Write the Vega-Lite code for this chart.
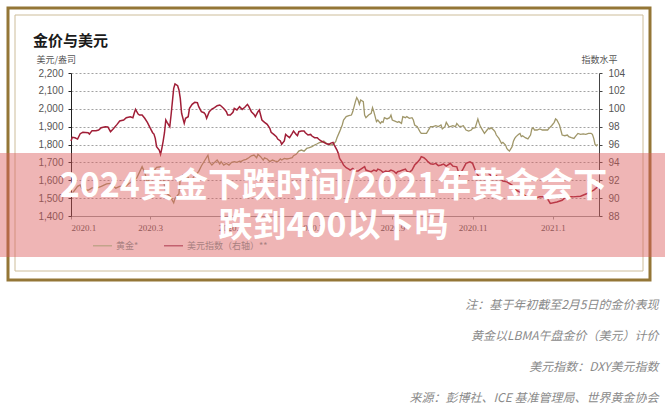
{
"$schema": "https://vega.github.io/schema/vega-lite/v6.json",
"width": 528, "height": 143,
"autosize": "none",
"padding": {"left": 71, "top": 73, "right": 66, "bottom": 194},
"background": "white",
"title": {"text": "金价与美元", "anchor": "start", "frame": "group", "font": "Noto Sans CJK SC", "fontSize": 15, "fontWeight": "bold", "color": "#1a1a1a", "dx": -38, "dy": 42, "offset": 0},
"datasets": {
"gold": [
{"date":"2020-01-02","price":1527},{"date":"2020-01-06","price":1566},{"date":"2020-01-08","price":1574},{"date":"2020-01-09","price":1556},{"date":"2020-01-10","price":1549},{"date":"2020-01-14","price":1544},{"date":"2020-01-17","price":1557},{"date":"2020-01-21","price":1557},{"date":"2020-01-24","price":1566},{"date":"2020-01-28","price":1580},{"date":"2020-01-31","price":1582},
{"date":"2020-02-04","price":1556},{"date":"2020-02-07","price":1566},{"date":"2020-02-12","price":1568},{"date":"2020-02-14","price":1582},{"date":"2020-02-18","price":1600},{"date":"2020-02-20","price":1614},{"date":"2020-02-24","price":1676},{"date":"2020-02-26","price":1643},{"date":"2020-02-28","price":1586},
{"date":"2020-03-03","price":1644},{"date":"2020-03-06","price":1672},{"date":"2020-03-09","price":1675},{"date":"2020-03-10","price":1650},{"date":"2020-03-12","price":1571},{"date":"2020-03-13","price":1529},{"date":"2020-03-16","price":1514},{"date":"2020-03-19","price":1474},{"date":"2020-03-20","price":1499},{"date":"2020-03-23","price":1525},{"date":"2020-03-24","price":1611},{"date":"2020-03-26","price":1630},{"date":"2020-03-30","price":1617},
{"date":"2020-04-01","price":1586},{"date":"2020-04-03","price":1617},{"date":"2020-04-07","price":1650},{"date":"2020-04-09","price":1680},{"date":"2020-04-14","price":1740},{"date":"2020-04-15","price":1704},{"date":"2020-04-17","price":1685},{"date":"2020-04-19","price":1700},{"date":"2020-04-21","price":1713},{"date":"2020-04-23","price":1691},{"date":"2020-04-24","price":1704},{"date":"2020-04-26","price":1685},{"date":"2020-04-28","price":1694},{"date":"2020-04-30","price":1685},
{"date":"2020-05-02","price":1700},{"date":"2020-05-04","price":1704},{"date":"2020-05-06","price":1700},{"date":"2020-05-08","price":1707},{"date":"2020-05-09","price":1704},{"date":"2020-05-11","price":1713},{"date":"2020-05-13","price":1717},{"date":"2020-05-15","price":1726},{"date":"2020-05-17","price":1737},{"date":"2020-05-19","price":1741},{"date":"2020-05-21","price":1726},{"date":"2020-05-22","price":1745},{"date":"2020-05-24","price":1732},{"date":"2020-05-26","price":1713},{"date":"2020-05-27","price":1726},{"date":"2020-05-29","price":1719},{"date":"2020-05-31","price":1704},
{"date":"2020-06-02","price":1713},{"date":"2020-06-04","price":1707},{"date":"2020-06-06","price":1704},{"date":"2020-06-08","price":1719},{"date":"2020-06-09","price":1713},{"date":"2020-06-11","price":1722},{"date":"2020-06-13","price":1719},{"date":"2020-06-15","price":1722},{"date":"2020-06-17","price":1726},{"date":"2020-06-18","price":1737},{"date":"2020-06-20","price":1745},{"date":"2020-06-22","price":1763},{"date":"2020-06-24","price":1769},{"date":"2020-06-26","price":1763},{"date":"2020-06-28","price":1778},{"date":"2020-06-30","price":1782},
{"date":"2020-07-02","price":1788},{"date":"2020-07-04","price":1797},{"date":"2020-07-06","price":1804},{"date":"2020-07-08","price":1812},{"date":"2020-07-09","price":1812},{"date":"2020-07-11","price":1819},{"date":"2020-07-13","price":1806},{"date":"2020-07-15","price":1801},{"date":"2020-07-16","price":1797},{"date":"2020-07-18","price":1801},{"date":"2020-07-20","price":1816},{"date":"2020-07-21","price":1838},{"date":"2020-07-23","price":1872},{"date":"2020-07-25","price":1909},{"date":"2020-07-26","price":1937},{"date":"2020-07-28","price":1956},{"date":"2020-07-30","price":1961},
{"date":"2020-08-01","price":1965},{"date":"2020-08-02","price":1984},{"date":"2020-08-04","price":2040},{"date":"2020-08-05","price":2062},{"date":"2020-08-06","price":2049},{"date":"2020-08-07","price":2025},{"date":"2020-08-08","price":2049},{"date":"2020-08-10","price":2040},{"date":"2020-08-11","price":1965},{"date":"2020-08-12","price":1950},{"date":"2020-08-14","price":1965},{"date":"2020-08-16","price":1974},{"date":"2020-08-17","price":2006},{"date":"2020-08-18","price":1984},{"date":"2020-08-20","price":1928},{"date":"2020-08-21","price":1937},{"date":"2020-08-23","price":1918},{"date":"2020-08-24","price":1928},{"date":"2020-08-25","price":1924},{"date":"2020-08-26","price":1950},{"date":"2020-08-28","price":1943},{"date":"2020-08-30","price":1950},{"date":"2020-08-31","price":1965},
{"date":"2020-09-01","price":1937},{"date":"2020-09-03","price":1931},{"date":"2020-09-05","price":1924},{"date":"2020-09-06","price":1928},{"date":"2020-09-08","price":1918},{"date":"2020-09-09","price":1956},{"date":"2020-09-11","price":1950},{"date":"2020-09-12","price":1956},{"date":"2020-09-14","price":1946},{"date":"2020-09-16","price":1950},{"date":"2020-09-17","price":1937},{"date":"2020-09-18","price":1909},{"date":"2020-09-20","price":1900},{"date":"2020-09-22","price":1872},{"date":"2020-09-23","price":1862},{"date":"2020-09-25","price":1862},{"date":"2020-09-27","price":1862},{"date":"2020-09-28","price":1875},{"date":"2020-09-30","price":1900},
{"date":"2020-10-02","price":1900},{"date":"2020-10-04","price":1905},{"date":"2020-10-06","price":1900},{"date":"2020-10-08","price":1909},{"date":"2020-10-09","price":1887},{"date":"2020-10-11","price":1900},{"date":"2020-10-12","price":1924},{"date":"2020-10-14","price":1900},{"date":"2020-10-15","price":1900},{"date":"2020-10-17","price":1905},{"date":"2020-10-19","price":1900},{"date":"2020-10-20","price":1918},{"date":"2020-10-22","price":1900},{"date":"2020-10-24","price":1903},{"date":"2020-10-25","price":1905},{"date":"2020-10-27","price":1881},{"date":"2020-10-29","price":1875},{"date":"2020-10-31","price":1881},
{"date":"2020-11-01","price":1890},{"date":"2020-11-03","price":1894},{"date":"2020-11-04","price":1918},{"date":"2020-11-05","price":1943},{"date":"2020-11-06","price":1918},{"date":"2020-11-07","price":1900},{"date":"2020-11-09","price":1875},{"date":"2020-11-10","price":1862},{"date":"2020-11-12","price":1881},{"date":"2020-11-13","price":1890},{"date":"2020-11-14","price":1887},{"date":"2020-11-15","price":1894},{"date":"2020-11-17","price":1881},{"date":"2020-11-18","price":1872},{"date":"2020-11-19","price":1853},{"date":"2020-11-21","price":1834},{"date":"2020-11-23","price":1806},{"date":"2020-11-24","price":1812},{"date":"2020-11-26","price":1797},{"date":"2020-11-27","price":1778},{"date":"2020-11-28","price":1769},{"date":"2020-11-29","price":1763},
{"date":"2020-12-01","price":1788},{"date":"2020-12-02","price":1819},{"date":"2020-12-03","price":1834},{"date":"2020-12-04","price":1844},{"date":"2020-12-06","price":1857},{"date":"2020-12-07","price":1862},{"date":"2020-12-08","price":1844},{"date":"2020-12-09","price":1849},{"date":"2020-12-11","price":1838},{"date":"2020-12-13","price":1831},{"date":"2020-12-15","price":1853},{"date":"2020-12-16","price":1887},{"date":"2020-12-17","price":1894},{"date":"2020-12-18","price":1881},{"date":"2020-12-20","price":1881},{"date":"2020-12-22","price":1887},{"date":"2020-12-24","price":1881},{"date":"2020-12-26","price":1881},{"date":"2020-12-28","price":1881},{"date":"2020-12-29","price":1890},{"date":"2020-12-31","price":1905},
{"date":"2021-01-02","price":1924},{"date":"2021-01-03","price":1943},{"date":"2021-01-04","price":1937},{"date":"2021-01-06","price":1909},{"date":"2021-01-07","price":1881},{"date":"2021-01-08","price":1853},{"date":"2021-01-10","price":1849},{"date":"2021-01-12","price":1853},{"date":"2021-01-13","price":1844},{"date":"2021-01-15","price":1838},{"date":"2021-01-17","price":1834},{"date":"2021-01-18","price":1844},{"date":"2021-01-20","price":1862},{"date":"2021-01-22","price":1857},{"date":"2021-01-24","price":1859},{"date":"2021-01-26","price":1857},{"date":"2021-01-28","price":1862},{"date":"2021-01-30","price":1862},{"date":"2021-01-31","price":1857},
{"date":"2021-02-01","price":1834},{"date":"2021-02-02","price":1801},{"date":"2021-02-03","price":1793},{"date":"2021-02-04","price":1801}
],
"dxy": [
{"date":"2020-01-01","index":96.39},{"date":"2020-01-02","index":96.8},{"date":"2020-01-04","index":96.76},{"date":"2020-01-06","index":96.61},{"date":"2020-01-08","index":97.21},{"date":"2020-01-10","index":97.36},{"date":"2020-01-14","index":97.32},{"date":"2020-01-15","index":97.17},{"date":"2020-01-17","index":97.55},{"date":"2020-01-20","index":97.55},{"date":"2020-01-22","index":97.62},{"date":"2020-01-24","index":97.88},{"date":"2020-01-27","index":97.99},{"date":"2020-01-29","index":97.96},{"date":"2020-01-31","index":97.43},
{"date":"2020-02-02","index":97.73},{"date":"2020-02-05","index":98.25},{"date":"2020-02-07","index":98.63},{"date":"2020-02-10","index":98.74},{"date":"2020-02-12","index":99.0},{"date":"2020-02-15","index":99.11},{"date":"2020-02-17","index":99.0},{"date":"2020-02-18","index":99.49},{"date":"2020-02-19","index":99.93},{"date":"2020-02-21","index":99.41},{"date":"2020-02-22","index":99.3},{"date":"2020-02-24","index":99.3},{"date":"2020-02-26","index":98.93},{"date":"2020-02-28","index":98.48},
{"date":"2020-03-01","index":97.88},{"date":"2020-03-03","index":97.32},{"date":"2020-03-04","index":97.17},{"date":"2020-03-05","index":96.69},{"date":"2020-03-06","index":95.75},{"date":"2020-03-08","index":95.38},{"date":"2020-03-09","index":94.9},{"date":"2020-03-10","index":95.57},{"date":"2020-03-11","index":96.39},{"date":"2020-03-12","index":97.32},{"date":"2020-03-13","index":98.74},{"date":"2020-03-14","index":98.48},{"date":"2020-03-16","index":97.99},{"date":"2020-03-17","index":99.3},{"date":"2020-03-19","index":102.28},{"date":"2020-03-20","index":102.77},{"date":"2020-03-22","index":102.58},{"date":"2020-03-23","index":102.1},{"date":"2020-03-24","index":101.16},{"date":"2020-03-25","index":99.49},{"date":"2020-03-27","index":98.37},{"date":"2020-03-28","index":98.93},{"date":"2020-03-30","index":99.11},{"date":"2020-03-31","index":100.04},
{"date":"2020-04-02","index":100.49},{"date":"2020-04-04","index":100.72},{"date":"2020-04-06","index":100.68},{"date":"2020-04-07","index":100.23},{"date":"2020-04-09","index":99.67},{"date":"2020-04-11","index":99.56},{"date":"2020-04-12","index":99.37},{"date":"2020-04-13","index":98.93},{"date":"2020-04-15","index":99.67},{"date":"2020-04-17","index":99.97},{"date":"2020-04-19","index":100.12},{"date":"2020-04-21","index":100.34},{"date":"2020-04-23","index":100.42},{"date":"2020-04-24","index":100.31},{"date":"2020-04-26","index":100.04},{"date":"2020-04-28","index":99.67},{"date":"2020-04-29","index":99.3},
{"date":"2020-05-01","index":99.3},{"date":"2020-05-03","index":99.6},{"date":"2020-05-04","index":100.04},{"date":"2020-05-06","index":99.86},{"date":"2020-05-08","index":100.23},{"date":"2020-05-10","index":99.93},{"date":"2020-05-12","index":100.16},{"date":"2020-05-14","index":100.49},{"date":"2020-05-15","index":100.27},{"date":"2020-05-17","index":99.67},{"date":"2020-05-19","index":99.37},{"date":"2020-05-20","index":99.11},{"date":"2020-05-22","index":99.67},{"date":"2020-05-23","index":99.86},{"date":"2020-05-24","index":99.3},{"date":"2020-05-25","index":98.74},{"date":"2020-05-27","index":98.48},{"date":"2020-05-29","index":98.25},{"date":"2020-05-31","index":97.81},
{"date":"2020-06-01","index":97.36},{"date":"2020-06-03","index":97.13},{"date":"2020-06-05","index":96.87},{"date":"2020-06-06","index":96.61},{"date":"2020-06-08","index":96.39},{"date":"2020-06-09","index":96.02},{"date":"2020-06-11","index":96.39},{"date":"2020-06-12","index":97.13},{"date":"2020-06-13","index":96.99},{"date":"2020-06-15","index":96.76},{"date":"2020-06-17","index":97.25},{"date":"2020-06-18","index":97.51},{"date":"2020-06-20","index":97.13},{"date":"2020-06-21","index":96.99},{"date":"2020-06-22","index":97.43},{"date":"2020-06-24","index":97.51},{"date":"2020-06-26","index":97.51},{"date":"2020-06-27","index":97.32},{"date":"2020-06-29","index":97.06},
{"date":"2020-07-01","index":97.13},{"date":"2020-07-02","index":96.95},{"date":"2020-07-04","index":96.76},{"date":"2020-07-06","index":96.76},{"date":"2020-07-07","index":96.61},{"date":"2020-07-09","index":96.39},{"date":"2020-07-11","index":96.24},{"date":"2020-07-13","index":96.09},{"date":"2020-07-15","index":96.02},{"date":"2020-07-16","index":96.13},{"date":"2020-07-18","index":96.24},{"date":"2020-07-19","index":95.94},{"date":"2020-07-21","index":95.38},{"date":"2020-07-22","index":95.01},{"date":"2020-07-23","index":94.45},{"date":"2020-07-25","index":94.0},{"date":"2020-07-26","index":93.7},{"date":"2020-07-28","index":93.4},{"date":"2020-07-30","index":93.25},{"date":"2020-07-31","index":93.14},
{"date":"2020-08-02","index":93.33},{"date":"2020-08-04","index":93.03},{"date":"2020-08-06","index":93.03},{"date":"2020-08-07","index":93.14},{"date":"2020-08-09","index":93.33},{"date":"2020-08-11","index":93.52},{"date":"2020-08-12","index":93.14},{"date":"2020-08-14","index":93.03},{"date":"2020-08-16","index":92.96},{"date":"2020-08-18","index":93.14},{"date":"2020-08-20","index":93.03},{"date":"2020-08-21","index":93.25},{"date":"2020-08-23","index":93.14},{"date":"2020-08-25","index":92.88},{"date":"2020-08-27","index":93.03},{"date":"2020-08-29","index":92.96},{"date":"2020-08-31","index":93.14},
{"date":"2020-09-02","index":93.03},{"date":"2020-09-04","index":92.77},{"date":"2020-09-05","index":92.96},{"date":"2020-09-07","index":93.03},{"date":"2020-09-09","index":93.14},{"date":"2020-09-11","index":93.25},{"date":"2020-09-12","index":93.03},{"date":"2020-09-14","index":92.88},{"date":"2020-09-16","index":93.14},{"date":"2020-09-18","index":93.7},{"date":"2020-09-20","index":94.0},{"date":"2020-09-22","index":94.34},{"date":"2020-09-23","index":94.64},{"date":"2020-09-25","index":94.52},{"date":"2020-09-27","index":94.26},{"date":"2020-09-28","index":94.08},{"date":"2020-09-30","index":93.85},
{"date":"2020-10-02","index":93.78},{"date":"2020-10-04","index":93.89},{"date":"2020-10-06","index":93.63},{"date":"2020-10-08","index":93.7},{"date":"2020-10-10","index":93.81},{"date":"2020-10-12","index":93.58},{"date":"2020-10-15","index":93.89},{"date":"2020-10-17","index":93.58},{"date":"2020-10-20","index":93.5},{"date":"2020-10-22","index":92.57},{"date":"2020-10-25","index":93.33},{"date":"2020-10-27","index":93.89},{"date":"2020-10-30","index":94.07},
{"date":"2020-11-01","index":93.89},{"date":"2020-11-04","index":92.76},{"date":"2020-11-07","index":92.2},{"date":"2020-11-09","index":92.6},{"date":"2020-11-12","index":92.9},{"date":"2020-11-16","index":92.4},{"date":"2020-11-19","index":92.5},{"date":"2020-11-22","index":92.2},{"date":"2020-11-24","index":91.9},{"date":"2020-11-27","index":91.82},
{"date":"2020-12-01","index":91.45},{"date":"2020-12-04","index":90.89},{"date":"2020-12-08","index":90.6},{"date":"2020-12-12","index":90.14},{"date":"2020-12-17","index":89.96},{"date":"2020-12-22","index":90.14},{"date":"2020-12-27","index":90.14},{"date":"2020-12-30","index":89.4},
{"date":"2021-01-04","index":89.57},{"date":"2021-01-08","index":89.76},{"date":"2021-01-11","index":90.14},{"date":"2021-01-16","index":90.14},{"date":"2021-01-22","index":90.21},{"date":"2021-01-27","index":90.52},{"date":"2021-02-01","index":90.89},{"date":"2021-02-04","index":91.26}
]
},
"layer": [
{"data": {"values": [{}]}, "mark": {"type": "rect", "filled": false, "stroke": "#947636", "strokeWidth": 3},
 "encoding": {"x": {"value": -63}, "x2": {"value": 579}, "y": {"value": -65}, "y2": {"value": 207}}},
{"data": {"values": [{}]}, "mark": {"type": "rect", "filled": false, "stroke": "#cdbd9a", "strokeWidth": 1},
 "encoding": {"x": {"value": -56}, "x2": {"value": 572}, "y": {"value": -58}, "y2": {"value": 198}}},
{"data": {"name": "gold"}, "mark": {"type": "line", "strokeWidth": 1.3},
 "encoding": {
  "x": {"field": "date", "type": "temporal",
   "scale": {"domain": [{"year": 2020, "month": 1, "date": 1}, {"year": 2021, "month": 2, "date": 5}], "nice": false},
   "axis": {"orient": "bottom", "values": [{"year": 2020, "month": 1, "date": 1}, {"year": 2020, "month": 3, "date": 1}, {"year": 2020, "month": 5, "date": 1}, {"year": 2020, "month": 7, "date": 1}, {"year": 2020, "month": 9, "date": 1}, {"year": 2020, "month": 11, "date": 1}, {"year": 2021, "month": 1, "date": 1}],
    "labelExpr": "year(datum.value) + '.' + (month(datum.value) + 1)",
    "grid": false, "domainColor": "#999999", "tickColor": "#999999", "tickSize": 3, "labelPadding": 4,
    "labelFont": "Liberation Serif", "labelFontSize": 9, "labelColor": "#555555",
    "title": ["注：基于年初截至2月5日的金价表现", "黄金以LBMA午盘金价（美元）计价", "美元指数：DXY美元指数", "来源：彭博社、ICE 基准管理局、世界黄金协会"],
    "titleFont": "Noto Sans CJK SC", "titleFontSize": 12, "titleFontWeight": "normal", "titleFontStyle": "italic", "titleColor": "#8a8a8a",
    "titleAlign": "right", "titleBaseline": "top", "titleAngle": 0, "titleX": 587, "titleY": 83, "titleLineHeight": 31}},
  "y": {"field": "price", "type": "quantitative",
   "scale": {"domain": [1400, 2200], "nice": false, "zero": false},
   "axis": {"orient": "left", "values": [1400, 1500, 1600, 1700, 1800, 1900, 2000, 2100, 2200], "format": ",.0f",
    "grid": true, "gridDash": [2, 2], "gridColor": "#8a8a8a", "gridWidth": 0.8,
    "domainColor": "#222222", "tickColor": "#222222", "tickSize": 3, "labelPadding": 5,
    "labelFont": "Liberation Sans", "labelFontSize": 10, "labelColor": "#555555",
    "title": "美元/盎司", "titleFont": "Noto Sans CJK SC", "titleFontSize": 9, "titleFontWeight": "normal", "titleColor": "#555555",
    "titleAngle": 0, "titleAlign": "left", "titleBaseline": "middle", "titleX": -35, "titleY": -14}},
  "color": {"datum": "黄金*", "type": "nominal",
   "scale": {"domain": ["黄金*", "美元指数（右轴）**"], "range": ["#a0976a", "#a01e37"]},
   "legend": {"orient": "none", "legendX": 21, "legendY": 162, "direction": "horizontal", "title": null,
    "symbolType": "stroke", "symbolSize": 360, "symbolStrokeWidth": 1.5, "symbolOpacity": 0.55,
    "labelFont": "Noto Sans CJK SC", "labelFontSize": 9, "labelColor": "#a88080", "labelOffset": 3, "columnPadding": 22}}
 }},
{"data": {"name": "dxy"}, "mark": {"type": "line", "strokeWidth": 1.5},
 "encoding": {
  "x": {"field": "date", "type": "temporal",
   "scale": {"domain": [{"year": 2020, "month": 1, "date": 1}, {"year": 2021, "month": 2, "date": 5}], "nice": false},
   "axis": {"orient": "top", "domain": false, "ticks": false, "labels": false, "grid": false, "zindex": 2,
    "title": ["2024黄金下跌时间/2021年黄金会下", "跌到400以下吗"],
    "titleFont": "Noto Sans CJK SC", "titleFontSize": 34, "titleFontWeight": "bold", "titleColor": "#ffffff",
    "titleAlign": "center", "titleBaseline": "middle", "titleAngle": 0, "titleX": 262, "titleY": 113, "titleLineHeight": 40}},
  "y": {"field": "index", "type": "quantitative",
   "scale": {"domain": [88, 104], "nice": false, "zero": false},
   "axis": {"orient": "right", "values": [88, 90, 92, 94, 96, 98, 100, 102, 104], "grid": false,
    "domainColor": "#444444", "tickColor": "#444444", "tickSize": 3, "labelPadding": 6,
    "labelFont": "Liberation Sans", "labelFontSize": 10, "labelColor": "#555555",
    "title": "指数水平", "titleFont": "Noto Sans CJK SC", "titleFontSize": 9, "titleFontWeight": "normal", "titleColor": "#555555",
    "titleAngle": 0, "titleAlign": "center", "titleBaseline": "middle", "titleX": 0, "titleY": -14}},
  "color": {"datum": "美元指数（右轴）**", "type": "nominal"}
 }},
{"data": {"values": [{}]}, "mark": {"type": "rect", "fill": "#dc5a5a", "fillOpacity": 0.45},
 "encoding": {"x": {"value": -71}, "x2": {"value": 594}, "y": {"value": 80}, "y2": {"value": 184}}}
],
"resolve": {"scale": {"y": "independent"}, "axis": {"x": "independent"}},
"config": {"view": {"stroke": null}}
}
